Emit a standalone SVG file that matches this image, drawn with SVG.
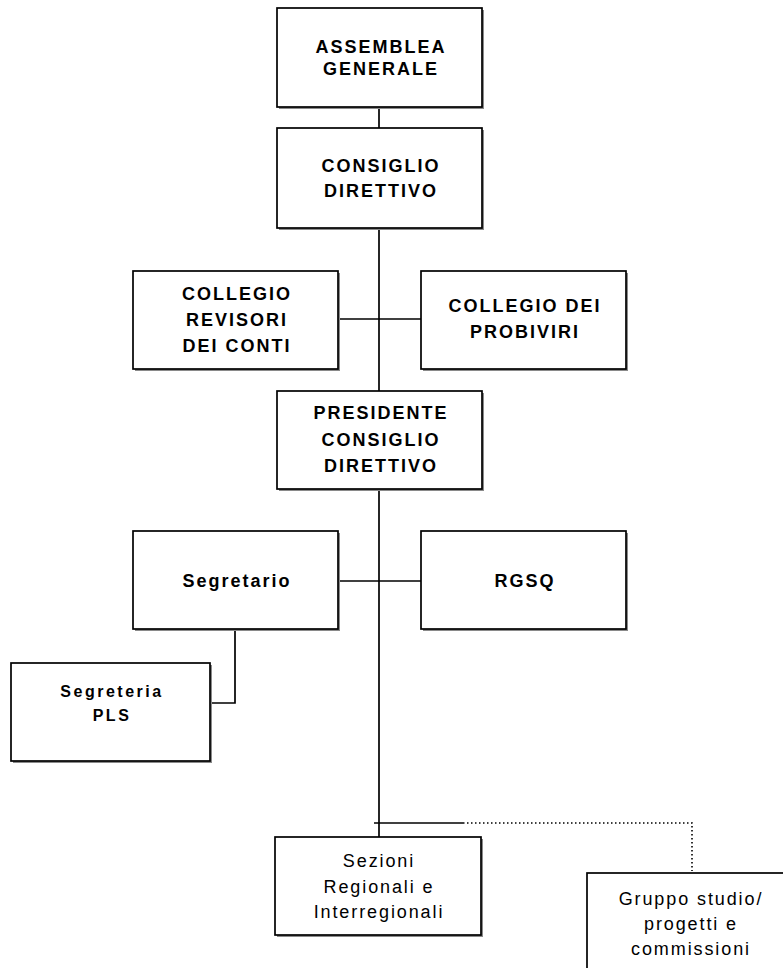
<svg xmlns="http://www.w3.org/2000/svg" width="783" height="968" viewBox="0 0 783 968">
<style>
.box{fill:#fff;stroke:#000;stroke-width:1.7}
.sh{fill:#8a8a8a}
.b{font-family:"Liberation Sans",Arial,sans-serif;font-weight:bold;font-size:18px;letter-spacing:2px;text-anchor:middle;fill:#000}
.s{font-size:16px;letter-spacing:2.5px}
.r{font-family:"Liberation Sans",Arial,sans-serif;font-size:18px;letter-spacing:1.9px;text-anchor:middle;fill:#000}
.ln{stroke:#000;stroke-width:1.7;fill:none}
.dt{stroke:#000;stroke-width:1.6;fill:none;stroke-dasharray:1.5 2.5}
</style>
<rect width="783" height="968" fill="#fff"/>
<g id="connectors">
<line class="ln" x1="379" y1="107" x2="379" y2="837"/>
<line class="ln" x1="338" y1="319" x2="421" y2="319"/>
<line class="ln" x1="338" y1="581" x2="421" y2="581"/>
<polyline class="ln" points="235,629 235,703 211,703"/>
<line class="ln" x1="374" y1="823" x2="463" y2="823"/>
<polyline class="dt" points="463,823 692,823 692,871"/>
</g>
<g id="assemblea">
<rect class="sh" x="279" y="10" width="205" height="99"/>
<rect class="box" x="277" y="8" width="205" height="99"/>
<text class="b" x="381" y="53">ASSEMBLEA</text>
<text class="b" x="381" y="75">GENERALE</text>
</g>
<g id="consiglio">
<rect class="sh" x="279" y="130" width="205" height="100"/>
<rect class="box" x="277" y="128" width="205" height="100"/>
<text class="b" x="381" y="172">CONSIGLIO</text>
<text class="b" x="381" y="197">DIRETTIVO</text>
</g>
<g id="revisori">
<rect class="sh" x="135" y="273" width="205" height="98"/>
<rect class="box" x="133" y="271" width="205" height="98"/>
<text class="b" x="237" y="300">COLLEGIO</text>
<text class="b" x="237" y="326">REVISORI</text>
<text class="b" x="237" y="352">DEI CONTI</text>
</g>
<g id="probiviri">
<rect class="sh" x="423" y="273" width="205" height="98"/>
<rect class="box" x="421" y="271" width="205" height="98"/>
<text class="b" x="525" y="312">COLLEGIO DEI</text>
<text class="b" x="525" y="338">PROBIVIRI</text>
</g>
<g id="presidente">
<rect class="sh" x="279" y="393" width="205" height="98"/>
<rect class="box" x="277" y="391" width="205" height="98"/>
<text class="b" x="381" y="419">PRESIDENTE</text>
<text class="b" x="381" y="446">CONSIGLIO</text>
<text class="b" x="381" y="472">DIRETTIVO</text>
</g>
<g id="segretario">
<rect class="sh" x="135" y="533" width="205" height="98"/>
<rect class="box" x="133" y="531" width="205" height="98"/>
<text class="b" x="237" y="587">Segretario</text>
</g>
<g id="rgsq">
<rect class="sh" x="423" y="533" width="205" height="98"/>
<rect class="box" x="421" y="531" width="205" height="98"/>
<text class="b" x="525" y="587">RGSQ</text>
</g>
<g id="segreteria">
<rect class="sh" x="13" y="665" width="199" height="98"/>
<rect class="box" x="11" y="663" width="199" height="98"/>
<text class="b s" x="112" y="697">Segreteria</text>
<text class="b s" x="112" y="721">PLS</text>
</g>
<g id="sezioni">
<rect class="sh" x="277" y="839" width="206" height="98"/>
<rect class="box" x="275" y="837" width="206" height="98"/>
<text class="r" x="379" y="867">Sezioni</text>
<text class="r" x="379" y="893">Regionali e</text>
<text class="r" x="379" y="918">Interregionali</text>
</g>
<g id="gruppo">
<rect class="sh" x="589" y="875" width="206" height="98"/>
<rect class="box" x="587" y="873" width="206" height="98"/>
<text class="r" x="691" y="905">Gruppo studio/</text>
<text class="r" x="691" y="930">progetti e</text>
<text class="r" x="691" y="955">commissioni</text>
</g>
</svg>
